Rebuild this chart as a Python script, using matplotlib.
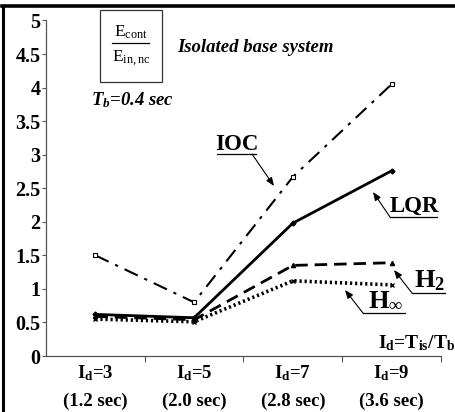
import matplotlib
matplotlib.use("Agg")
import matplotlib.pyplot as plt
from matplotlib.lines import Line2D
from matplotlib.patches import Rectangle

plt.rcParams['font.family'] = ['Liberation Serif', 'DejaVu Serif']
plt.rcParams['mathtext.fontset'] = 'custom'
plt.rcParams['mathtext.rm'] = 'Liberation Serif'
plt.rcParams['mathtext.it'] = 'Liberation Serif:italic:bold'
plt.rcParams['mathtext.bf'] = 'Liberation Serif:bold'

# ---- data ----
categories = [r'$\mathbf{I_d}$=3' + '\n(1.2 sec)',
              r'$\mathbf{I_d}$=5' + '\n(2.0 sec)',
              r'$\mathbf{I_d}$=7' + '\n(2.8 sec)',
              r'$\mathbf{I_d}$=9' + '\n(3.6 sec)']
ioc = [1.50, 0.80, 2.67, 4.05]
lqr = [0.62, 0.57, 1.98, 2.76]
h2 = [0.59, 0.54, 1.35, 1.39]
hinf = [0.55, 0.51, 1.12, 1.06]
yticks = [0, 0.5, 1, 1.5, 2, 2.5, 3, 3.5, 4, 4.5, 5]
ytick_labels = ['0', '0.5', '1', '1.5', '2', '2.5', '3', '3.5', '4', '4.5', '5']

W, H = 456, 412
fig = plt.figure(figsize=(W / 100, H / 100), dpi=100)
fig.patch.set_facecolor('white')


def fx(px):
    return px / W


def fy(py):
    return 1 - py / H


ax = fig.add_axes([fx(46), fy(356), fx(441) - fx(46), fy(20.5) - fy(356)])
x = list(range(len(categories)))

ax.plot(x, ioc, color='black', lw=1.5, ls=(0, (7, 3.5, 1.5, 3.5)), marker='s',
        ms=3, mfc='white', mec='black', mew=0.8)
ax.plot(x, lqr, color='black', lw=2.0, ls='-', marker='D', ms=2.5)
ax.plot(x, h2, color='black', lw=2.0, ls=(0, (4.5, 2.5)), marker='^', ms=3)
ax.plot(x, hinf, color='black', lw=2.6, ls=(0, (0.6, 0.8)), marker='x', ms=3, mew=1)

ax.set_xlim(-0.5, 3.5)
ax.set_ylim(0, 5)
ax.set_yticks(yticks)
ax.set_yticklabels(ytick_labels, fontsize=14.5, fontweight='bold')
ax.set_xticks(x)
ax.set_xticklabels(categories, fontsize=13.5, fontweight='bold', linespacing=1.75)
ax.set_xticks([0.5, 1.5, 2.5, 3.5], minor=True)
ax.tick_params(axis='x', which='major', length=0, pad=5)
ax.tick_params(axis='x', which='minor', length=4, width=0.8, color='#555555')
ax.tick_params(axis='y', which='major', length=3, width=0.8, color='#555555', pad=1)
for s in ['top', 'right']:
    ax.spines[s].set_visible(False)
for s in ['left', 'bottom']:
    ax.spines[s].set_color('#555555')
    ax.spines[s].set_linewidth(0.9)

# ---- figure border (left and top) ----
fig.add_artist(Line2D([fx(3), fx(3)], [0, fy(6)], transform=fig.transFigure,
                      color='black', lw=2.2))
fig.add_artist(Line2D([fx(2), 1], [fy(6), fy(6)], transform=fig.transFigure,
                      color='black', lw=2.6))

# ---- fraction box ----
fig.add_artist(Rectangle((fx(100), fy(82)), fx(162) - fx(100), fy(10) - fy(82),
                         transform=fig.transFigure, fill=False, ec='#333333', lw=0.9))
fig.text(fx(131), fy(32), r'$\mathrm{E_{cont}}$', ha='center', va='center', fontsize=12.5)
fig.add_artist(Line2D([fx(112), fx(149)], [fy(43), fy(43)], transform=fig.transFigure,
                      color='black', lw=0.9))
fig.text(fx(131), fy(58), r'$\mathrm{E_{in,nc}}$', ha='center', va='center', fontsize=12.5)

fig.text(fx(255), fy(47), 'Isolated base system', ha='center', va='center',
         fontsize=13.5, fontweight='bold', style='italic')
fig.text(fx(132), fy(100), r'$T_b$' + '=0.4 sec', ha='center', va='center',
         fontsize=13.5, fontweight='bold', style='italic')

fig.text(fx(455), fy(343), r'$\mathbf{I_d}$=$\mathbf{T_{is}}$/$\mathbf{T_b}$',
         ha='right', va='center', fontsize=14, fontweight='bold')


def label(txt, cx, cy, ul_x0, ul_x1, ul_y, tail, head, size=16.5):
    fig.text(fx(cx), fy(cy), txt, ha='center', va='center', fontsize=size, fontweight='bold')
    fig.add_artist(Line2D([fx(ul_x0), fx(ul_x1)], [fy(ul_y), fy(ul_y)],
                          transform=fig.transFigure, color='black', lw=0.9))
    ax.annotate('', xy=(fx(head[0]), fy(head[1])), xycoords='figure fraction',
                xytext=(fx(tail[0]), fy(tail[1])), textcoords='figure fraction',
                arrowprops=dict(arrowstyle='-|>,head_length=0.5,head_width=0.2',
                                color='black', lw=0.8, shrinkA=0, shrinkB=0))


label('IOC', 237, 144, 217, 256, 154, (252, 154), (274, 186))
label('LQR', 414, 206, 390, 437, 217, (390, 217), (373, 192))
label(r'$\mathbf{H_2}$', 430, 281, 412, 445, 293, (412, 293), (394, 270), size=19)
label(r'$\mathbf{H_\infty}$', 386, 300, 363, 405, 313, (363, 313), (345, 290), size=19)

fig.savefig('out.png', dpi=100, facecolor='white')
